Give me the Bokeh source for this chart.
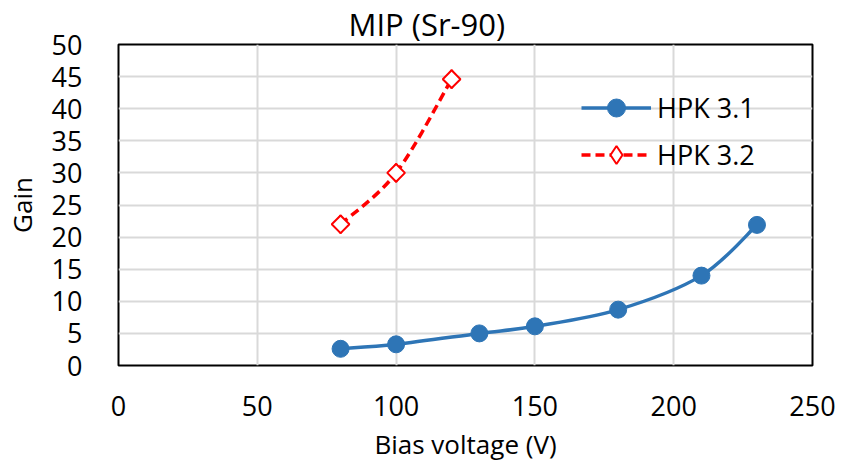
from bokeh.plotting import figure
from bokeh.models import Range1d, FixedTicker, Legend, LegendItem
from bokeh.embed import file_html
from bokeh.resources import INLINE
import numpy as np

# ---- data ----
title_text = "MIP (Sr-90)"
x_label = "Bias voltage (V)"
y_label = "Gain"
x_ticks = [0, 50, 100, 150, 200, 250]
y_ticks = [0, 5, 10, 15, 20, 25, 30, 35, 40, 45, 50]

hpk31_name = "HPK 3.1"
hpk31_v = [80, 100, 130, 150, 180, 210, 230]
hpk31_gain = [2.6, 3.3, 5.0, 6.1, 8.7, 14.0, 21.9]

hpk32_name = "HPK 3.2"
hpk32_v = [80, 100, 120]
hpk32_gain = [22.0, 30.0, 44.6]

FONT = "Open Sans"


def smooth_segments(xs, ys, t=1.0 / 6.0):
    """Bezier control points (Excel-style smoothed line) for drawing."""
    xs = np.asarray(xs, float)
    ys = np.asarray(ys, float)
    n = len(xs)
    px = np.concatenate([[xs[0]], xs, [xs[-1]]])
    py = np.concatenate([[ys[0]], ys, [ys[-1]]])
    d = dict(x0=[], y0=[], x1=[], y1=[], cx0=[], cy0=[], cx1=[], cy1=[])
    for i in range(n - 1):
        a, b = i + 1, i + 2
        d["x0"].append(px[a]); d["y0"].append(py[a])
        d["x1"].append(px[b]); d["y1"].append(py[b])
        d["cx0"].append(px[a] + (px[b] - px[a - 1]) * t)
        d["cy0"].append(py[a] + (py[b] - py[a - 1]) * t)
        d["cx1"].append(px[b] - (px[b + 1] - px[a]) * t)
        d["cy1"].append(py[b] - (py[b + 1] - py[a]) * t)
    return d


p = figure(width=852, height=464, output_backend="svg", toolbar_location=None,
           x_range=Range1d(0, 250), y_range=Range1d(0, 50),
           min_border_left=118, min_border_right=40,
           min_border_top=43, min_border_bottom=99)

p.title.text = title_text
p.title.text_font = FONT
p.title.text_font_size = "31px"
p.title.text_font_style = "normal"
p.title.text_color = "black"
p.title.align = "left"
p.title.offset = 230
p.title.standoff = 0

p.outline_line_color = "black"
p.outline_line_width = 2
p.background_fill_color = "white"
p.border_fill_color = "white"

for ax in (p.xaxis[0], p.yaxis[0]):
    ax.axis_line_color = None
    ax.major_tick_line_color = None
    ax.minor_tick_line_color = None
    ax.major_label_text_font = FONT
    ax.major_label_text_font_size = "27px"
    ax.major_label_text_color = "black"
    ax.axis_label_text_font = FONT
    ax.axis_label_text_font_size = "26px"
    ax.axis_label_text_font_style = "normal"
    ax.axis_label_text_color = "black"

p.xaxis[0].ticker = FixedTicker(ticks=x_ticks)
p.yaxis[0].ticker = FixedTicker(ticks=y_ticks)
p.xaxis[0].axis_label = x_label
p.yaxis[0].axis_label = y_label
p.xaxis[0].major_label_standoff = 24
p.yaxis[0].major_label_standoff = 30
p.xaxis[0].axis_label_standoff = 7
p.yaxis[0].axis_label_standoff = 9

p.xgrid.grid_line_color = "#d9d9d9"
p.ygrid.grid_line_color = "#d9d9d9"
p.xgrid.grid_line_width = 2
p.ygrid.grid_line_width = 2
p.xgrid.ticker = FixedTicker(ticks=x_ticks)
p.ygrid.ticker = FixedTicker(ticks=y_ticks)

BLUE = "#2E75B6"
RED = "#FF0000"

s31 = smooth_segments(hpk31_v, hpk31_gain)
l31 = p.bezier(x0="x0", y0="y0", x1="x1", y1="y1", cx0="cx0", cy0="cy0",
               cx1="cx1", cy1="cy1", source=s31, line_color=BLUE, line_width=3.5)
m31 = p.scatter(hpk31_v, hpk31_gain, marker="circle", size=17,
                fill_color=BLUE, line_color=BLUE)

s32 = smooth_segments(hpk32_v, hpk32_gain)
l32 = p.bezier(x0="x0", y0="y0", x1="x1", y1="y1", cx0="cx0", cy0="cy0",
               cx1="cx1", cy1="cy1", source=s32, line_color=RED, line_width=3.5,
               line_dash="9 5")
# diamond (for legend), hidden beneath the rotated-square markers
m32_leg = p.scatter(hpk32_v, hpk32_gain, marker="diamond", size=18,
                    fill_color="white", line_color=RED, line_width=2)
m32 = p.scatter(hpk32_v, hpk32_gain, marker="square", size=12.5, angle=np.pi / 4,
                fill_color="white", line_color=RED, line_width=2)

legend = Legend(items=[LegendItem(label=hpk31_name, renderers=[l31, m31]),
                       LegendItem(label=hpk32_name, renderers=[l32, m32_leg])],
                location=(463, 188), padding=0, margin=0,
                border_line_color=None, background_fill_alpha=0,
                label_text_font=FONT, label_text_font_size="27px",
                label_text_color="black",
                glyph_width=70, glyph_height=45, label_height=45,
                spacing=2, label_standoff=6)
p.add_layout(legend, "center")

open("out.html", "w").write(file_html(p, INLINE))
